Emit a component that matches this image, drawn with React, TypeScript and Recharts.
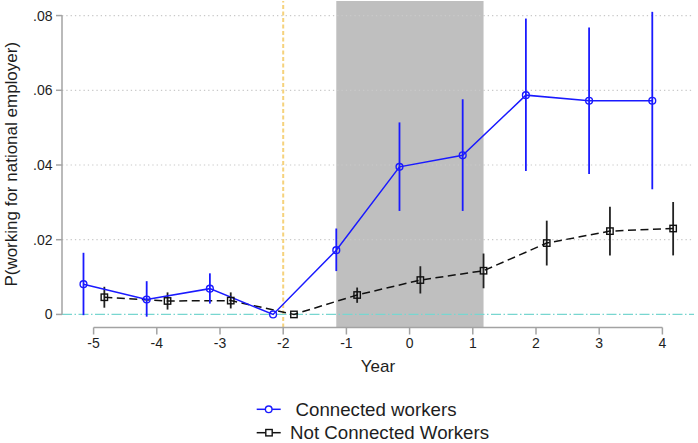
import {
  ComposedChart,
  Line,
  XAxis,
  YAxis,
  ReferenceLine,
  ReferenceArea,
  ErrorBar,
} from "recharts";

const years = [-5, -4, -3, -2, -1, 0, 1, 2, 3, 4];
const yTicks = [0, 0.02, 0.04, 0.06, 0.08];

const connectedX = [-5.16, -4.16, -3.16, -2.16, -1.16, -0.16, 0.84, 1.84, 2.84, 3.84];
const connectedY = [0.0081, 0.004, 0.0069, 0, 0.0172, 0.0395, 0.0426, 0.0587, 0.0572, 0.0572];
const connectedLo = [-0.0002, -0.0006, 0.0029, 0, 0.0116, 0.0277, 0.0277, 0.0384, 0.0376, 0.0335];
const connectedHi = [0.0165, 0.0089, 0.011, 0, 0.023, 0.0514, 0.0576, 0.0792, 0.0768, 0.081];

const notConnectedX = [-4.83, -3.83, -2.83, -1.83, -0.83, 0.17, 1.17, 2.17, 3.17, 4.17];
const notConnectedY = [0.0046, 0.0036, 0.0037, 0, 0.0052, 0.0092, 0.0117, 0.0191, 0.0223, 0.023];
const notConnectedLo = [0.0018, 0.0013, 0.0016, 0, 0.0031, 0.0056, 0.007, 0.0131, 0.0158, 0.0158];
const notConnectedHi = [0.0074, 0.0059, 0.0059, 0, 0.0072, 0.0129, 0.0163, 0.0251, 0.0288, 0.0301];

const shadeFrom = -1.16;
const shadeTo = 1.17;
const eventYear = -2;

const font = '"Liberation Sans", Arial, sans-serif';
const textColor = "#1e1e1e";
const axisGray = "#a3a3a3";
const blue = "#1a1aff";
const black = "#111111";

const X_DOMAIN = [-5.5, 4.5];
const Y_DOMAIN = [-0.0035, 0.0839];

function buildSeries(xs: number[], ys: number[], lo: number[], hi: number[]) {
  return xs.map((x, i) => ({ x, y: ys[i], err: [ys[i] - lo[i], hi[i] - ys[i]] }));
}

const connectedData = buildSeries(connectedX, connectedY, connectedLo, connectedHi);
const notConnectedData = buildSeries(notConnectedX, notConnectedY, notConnectedLo, notConnectedHi);

function fmtY(v: number) {
  if (v === 0) return "0";
  return v.toFixed(2).replace(/^0/, "");
}

function SquareDot(props: any) {
  const { cx, cy } = props;
  if (cx == null || cy == null) return null;
  return (
    <rect x={cx - 3.2} y={cy - 3.2} width={6.4} height={6.4} fill="none" stroke={black} strokeWidth={1.4} />
  );
}

export default function App() {
  return (
    <div style={{ position: "fixed", left: 0, top: 0, width: 698, height: 443, background: "#fff" }}>
      <ComposedChart width={698} height={443} margin={{ top: 1, right: 4, left: 0, bottom: 75.5 }}>
        <XAxis
          type="number"
          dataKey="x"
          domain={X_DOMAIN}
          allowDataOverflow
          ticks={years}
          axisLine={false}
          tickLine={{ stroke: axisGray, strokeWidth: 1.5 }}
          tickSize={7}
          tickMargin={3.8}
          height={40}
          tick={{ fontSize: 14, fill: textColor, fontFamily: font }}
          label={{
            content: (p: any) => (
              <text
                x={p.viewBox.x + p.viewBox.width / 2}
                y={p.viewBox.y + 44.3}
                textAnchor="middle"
                fontSize={17}
                fontFamily={font}
                fill={textColor}
              >
                Year
              </text>
            ),
          }}
        />
        <YAxis
          type="number"
          dataKey="y"
          domain={Y_DOMAIN}
          allowDataOverflow
          ticks={yTicks}
          tickFormatter={fmtY}
          axisLine={false}
          tickLine={{ stroke: axisGray, strokeWidth: 1.5 }}
          tickSize={6}
          tickMargin={3.5}
          width={62}
          tick={{ fontSize: 14, fill: textColor, fontFamily: font }}
          label={{
            content: (p: any) => {
              const cy = p.viewBox.y + p.viewBox.height / 2;
              return (
                <text
                  x={16.5}
                  y={cy}
                  transform={`rotate(-90 16.5 ${cy})`}
                  textAnchor="middle"
                  fontSize={17}
                  fontFamily={font}
                  fill={textColor}
                >
                  P(working for national employer)
                </text>
              );
            },
          }}
        />

        {yTicks
          .filter((t) => t > 0)
          .map((t) => (
            <ReferenceLine key={t} y={t} stroke="#c9c9c9" strokeWidth={1.2} strokeDasharray="1.3 3" />
          ))}

        <ReferenceArea x1={shadeFrom} x2={shadeTo} fill="#bfbfbf" fillOpacity={1} stroke="none" />
        <ReferenceLine x={eventYear} stroke="#f5d27c" strokeWidth={2} strokeDasharray="4 2.5" />
        <ReferenceLine y={0} stroke="#78d6d0" strokeWidth={1.3} strokeDasharray="10 2.5 1.5 2.5" />

        <ReferenceLine
          segment={[{ x: X_DOMAIN[0], y: 0 }, { x: X_DOMAIN[0], y: 0.08 }]}
          stroke={axisGray}
          strokeWidth={1.5}
          ifOverflow="visible"
        />
        <ReferenceLine
          segment={[{ x: -5, y: Y_DOMAIN[0] }, { x: 4, y: Y_DOMAIN[0] }]}
          stroke={axisGray}
          strokeWidth={1.5}
          ifOverflow="visible"
        />

        <Line
          data={notConnectedData}
          dataKey="y"
          type="linear"
          stroke={black}
          strokeWidth={1.5}
          strokeDasharray="8 4.5"
          dot={<SquareDot />}
          activeDot={false}
          isAnimationActive={false}
        >
          <ErrorBar dataKey="err" width={0} stroke="#222" strokeWidth={1.8} direction="y" />
        </Line>
        <Line
          data={connectedData}
          dataKey="y"
          type="linear"
          stroke={blue}
          strokeWidth={1.5}
          dot={{ r: 3.4, fill: "none", stroke: blue, strokeWidth: 1.4 }}
          activeDot={false}
          isAnimationActive={false}
        >
          <ErrorBar dataKey="err" width={0} stroke={blue} strokeWidth={1.8} direction="y" />
        </Line>
      </ComposedChart>

      <svg width={698} height={443} style={{ position: "absolute", left: 0, top: 0, pointerEvents: "none" }}>
        <line x1={256.7} x2={280.7} y1={409.3} y2={409.3} stroke={blue} strokeWidth={1.5} />
        <circle cx={268.7} cy={409.3} r={3.3} fill="#fff" stroke={blue} strokeWidth={1.4} />
        <text x={295.5} y={409.3} dominantBaseline="central" fontSize={18.7} fontFamily={font} fill={textColor}>
          Connected workers
        </text>
        <line x1={256.7} x2={280.7} y1={432.7} y2={432.7} stroke={black} strokeWidth={1.5} />
        <rect x={265.8} y={429.5} width={6.4} height={6.4} fill="#fff" stroke={black} strokeWidth={1.4} />
        <text x={290} y={432.7} dominantBaseline="central" fontSize={18.7} fontFamily={font} fill={textColor}>
          Not Connected Workers
        </text>
      </svg>
    </div>
  );
}
